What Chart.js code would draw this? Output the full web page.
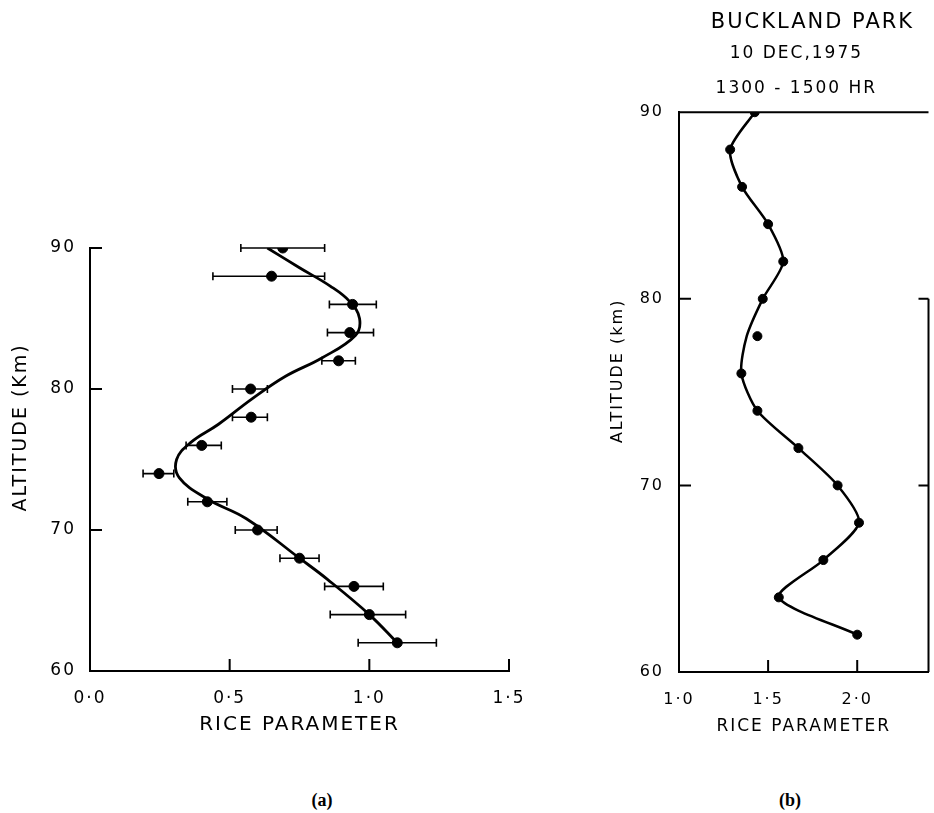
<!DOCTYPE html>
<html lang="en">
<head>
<meta charset="UTF-8">
<title>Rice parameter profiles</title>
<script src="https://cdn.jsdelivr.net/npm/chart.js@4/dist/chart.umd.min.js"></script>
<style>
    html, body { margin: 0; padding: 0; background: #fff; }
    body { width: 934px; height: 813px; position: relative; overflow: hidden; }
    canvas { position: absolute; }
    #chartA { left: 0; top: 200px; }
    #chartB { left: 590px; top: 0; }
    .tag { position: absolute; font: bold 18px "Liberation Serif", serif; color: #000; transform: translate(-50%, -50%); }
</style>
</head>
<body>
<canvas id="chartA" width="540" height="560"></canvas>
<canvas id="chartB" width="344" height="760"></canvas>
<div class="tag" style="left:322px; top:800px;">(a)</div>
<div class="tag" style="left:790px; top:800px;">(b)</div>

<script>
    // ---- panel (a): measured points with error bars
    const altA = [90, 88, 86, 84, 82, 80, 78, 76, 74, 72, 70, 68, 66, 64, 62];
    const riceA = [0.69, 0.65, 0.94, 0.93, 0.89, 0.575, 0.577, 0.40, 0.247, 0.42, 0.60, 0.75, 0.945, 1.0, 1.10];
    const errLoA = [0.54, 0.44, 0.857, 0.85, 0.83, 0.51, 0.51, 0.344, 0.19, 0.35, 0.52, 0.68, 0.84, 0.86, 0.96];
    const errHiA = [0.84, 0.84, 1.025, 1.015, 0.95, 0.635, 0.635, 0.47, 0.30, 0.49, 0.67, 0.82, 1.05, 1.13, 1.24];
    // hand drawn smooth curve
    const fitRiceA = [0.635, 0.75, 0.86, 0.93, 0.965, 0.95, 0.83, 0.70, 0.58, 0.46, 0.36, 0.31, 0.32, 0.42, 0.56, 0.75, 0.85, 1.0, 1.10];
    const fitAltA = [90, 88.6, 87.3, 86.2, 85, 83.8, 82.2, 80.9, 79.3, 77.5, 76.2, 75.0, 73.7, 72.2, 70.8, 68.0, 66.5, 64, 62];
    const xTicksA = [0, 0.5, 1.0, 1.5];
    const yTicks = [60, 70, 80, 90];

    // ---- panel (b): Buckland Park
    const altB = [90, 88, 86, 84, 82, 80, 78, 76, 74, 72, 70, 68, 66, 64, 62];
    const riceB = [1.425, 1.287, 1.354, 1.50, 1.585, 1.47, 1.44, 1.35, 1.44, 1.67, 1.89, 2.01, 1.81, 1.56, 2.0];
    const curveRiceB = [1.425, 1.287, 1.354, 1.50, 1.585, 1.47, 1.38, 1.35, 1.44, 1.67, 1.89, 2.01, 1.81, 1.56, 2.0];
    const curveAltB = [90, 88, 86, 84, 82, 80, 78, 76, 74, 72, 70, 68, 66, 64, 62];
    const xTicksB = [1.0, 1.5, 2.0];

    const family = "'DejaVu Sans', sans-serif";

    function fmt(v) { return v.toFixed(1).replace('.', '·'); }
    function pts(xs, ys) { return ys.map((y, i) => ({x: xs[i], y: y})); }

    // spaced out lettering like the original
    const spacing = {
        id: 'spacing',
        beforeLayout(chart) { chart.ctx.letterSpacing = '2px'; },
        beforeDraw(chart) { chart.ctx.letterSpacing = '2px'; }
    };

    // horizontal error bars with end caps
    const errorBars = {
        id: 'errorBars',
        afterDatasetsDraw(chart) {
            const {ctx, scales: {x, y}} = chart;
            chart.data.datasets.forEach(ds => {
                if (!ds.errLo) return;
                ctx.save();
                ctx.strokeStyle = '#000';
                ctx.lineWidth = 1.6;
                ds.data.forEach((p, i) => {
                    const py = y.getPixelForValue(p.y);
                    const x1 = x.getPixelForValue(ds.errLo[i]);
                    const x2 = x.getPixelForValue(ds.errHi[i]);
                    ctx.beginPath();
                    ctx.moveTo(x1, py); ctx.lineTo(x2, py);
                    ctx.moveTo(x1, py - 4); ctx.lineTo(x1, py + 4);
                    ctx.moveTo(x2, py - 4); ctx.lineTo(x2, py + 4);
                    ctx.stroke();
                });
                ctx.restore();
            });
        }
    };

    // tick marks pointing into the plot, plus the partial frame of panel (b)
    const innerTicks = {
        id: 'innerTicks',
        afterDraw(chart, args, opts) {
            const {ctx, chartArea: a, scales: {x, y}} = chart;
            const len = opts.len || 11;
            ctx.save();
            ctx.strokeStyle = '#000';
            ctx.lineWidth = 2;
            ctx.beginPath();
            (opts.x || []).forEach(v => {
                const px = x.getPixelForValue(v);
                ctx.moveTo(px, a.bottom); ctx.lineTo(px, a.bottom - len);
            });
            (opts.y || []).forEach(v => {
                const py = y.getPixelForValue(v);
                ctx.moveTo(a.left, py); ctx.lineTo(a.left + len, py);
            });
            if (opts.frame) {
                ctx.moveTo(a.left, a.top); ctx.lineTo(a.right, a.top);
                ctx.moveTo(a.right, y.getPixelForValue(opts.frameFrom)); ctx.lineTo(a.right, a.bottom);
                (opts.y || []).forEach(v => {
                    if (v > opts.frameFrom) return;
                    const py = y.getPixelForValue(v);
                    ctx.moveTo(a.right, py); ctx.lineTo(a.right - len + 2, py);
                });
            }
            ctx.stroke();
            ctx.restore();
        }
    };

    function axisX(min, max, ticks, title, tickSize, titleSize, tickPad, titlePad, height) {
        return {
            type: 'linear', min: min, max: max,
            afterBuildTicks: s => { s.ticks = ticks.map(v => ({value: v})); },
            afterFit: s => { s.height = height; },
            grid: {display: false},
            border: {display: true, color: '#000', width: 2},
            ticks: {padding: tickPad, color: '#000', font: {family: family, size: tickSize}, callback: v => fmt(v)},
            title: {display: true, text: title, color: '#000', font: {family: family, size: titleSize}, padding: {top: 0, bottom: titlePad}}
        };
    }

    function axisY(title, tickSize, titleSize, tickPad, titlePad, width) {
        return {
            type: 'linear', min: 60, max: 90,
            afterBuildTicks: s => { s.ticks = yTicks.map(v => ({value: v})); },
            afterFit: s => { s.width = width; },
            grid: {display: false},
            border: {display: true, color: '#000', width: 2},
            ticks: {padding: tickPad, color: '#000', font: {family: family, size: tickSize}},
            title: {display: true, text: title, color: '#000', font: {family: family, size: titleSize}, padding: {top: titlePad, bottom: 0}}
        };
    }

    new Chart(document.getElementById('chartA'), {
        type: 'scatter',
        data: {
            datasets: [
                {data: pts(fitRiceA, fitAltA), showLine: true, borderColor: '#000', borderWidth: 2.8, pointRadius: 0, tension: 0.4, fill: false},
                {data: pts(riceA, altA), pointRadius: 5, backgroundColor: '#000', borderColor: '#000', errLo: errLoA, errHi: errHiA}
            ]
        },
        options: {
            responsive: false, animation: false, events: [],
            layout: {padding: {left: 0, right: 31, top: 48, bottom: 19}},
            plugins: {
                legend: {display: false}, tooltip: {enabled: false},
                innerTicks: {x: [0.5, 1.0, 1.5], y: [70, 80, 90], len: 12}
            },
            scales: {
                x: axisX(0, 1.5, xTicksA, 'RICE PARAMETER', 17, 20, 9, 4, 70),
                y: axisY('        ALTITUDE (Km)', 17, 19, 6, 10, 90)
            }
        },
        plugins: [spacing, errorBars, innerTicks]
    });

    new Chart(document.getElementById('chartB'), {
        type: 'scatter',
        data: {
            datasets: [
                {data: pts(curveRiceB, curveAltB), showLine: true, borderColor: '#000', borderWidth: 2.5, pointRadius: 0, tension: 0.25, fill: false},
                {data: pts(riceB, altB), pointRadius: 4.5, backgroundColor: '#000', borderColor: '#000'}
            ]
        },
        options: {
            responsive: false, animation: false, events: [],
            layout: {padding: {left: 0, right: 4, top: 0, bottom: 18}},
            plugins: {
                legend: {display: false}, tooltip: {enabled: false},
                title: {display: true, fullSize: false, text: '  BUCKLAND PARK', color: '#000',
                    font: {family: family, size: 21, weight: 'normal', lineHeight: 1.2}, padding: {top: 10, bottom: 0}},
                subtitle: {display: true, fullSize: false, text: ['10 DEC,1975  ', '1300 - 1500 HR  '], color: '#000',
                    font: {family: family, size: 17, lineHeight: 2.06}, padding: {top: 1, bottom: 6}},
                innerTicks: {x: [1.5, 2.0], y: [70, 80], len: 12, frame: true, frameFrom: 80}
            },
            scales: {
                x: axisX(1.0, 2.4, xTicksB, 'RICE PARAMETER', 16, 17, 10, 5, 70),
                y: axisY('      ALTITUDE (km)', 16, 16, 7, 18, 89)
            }
        },
        plugins: [spacing, innerTicks]
    });
</script>
</body>
</html>
